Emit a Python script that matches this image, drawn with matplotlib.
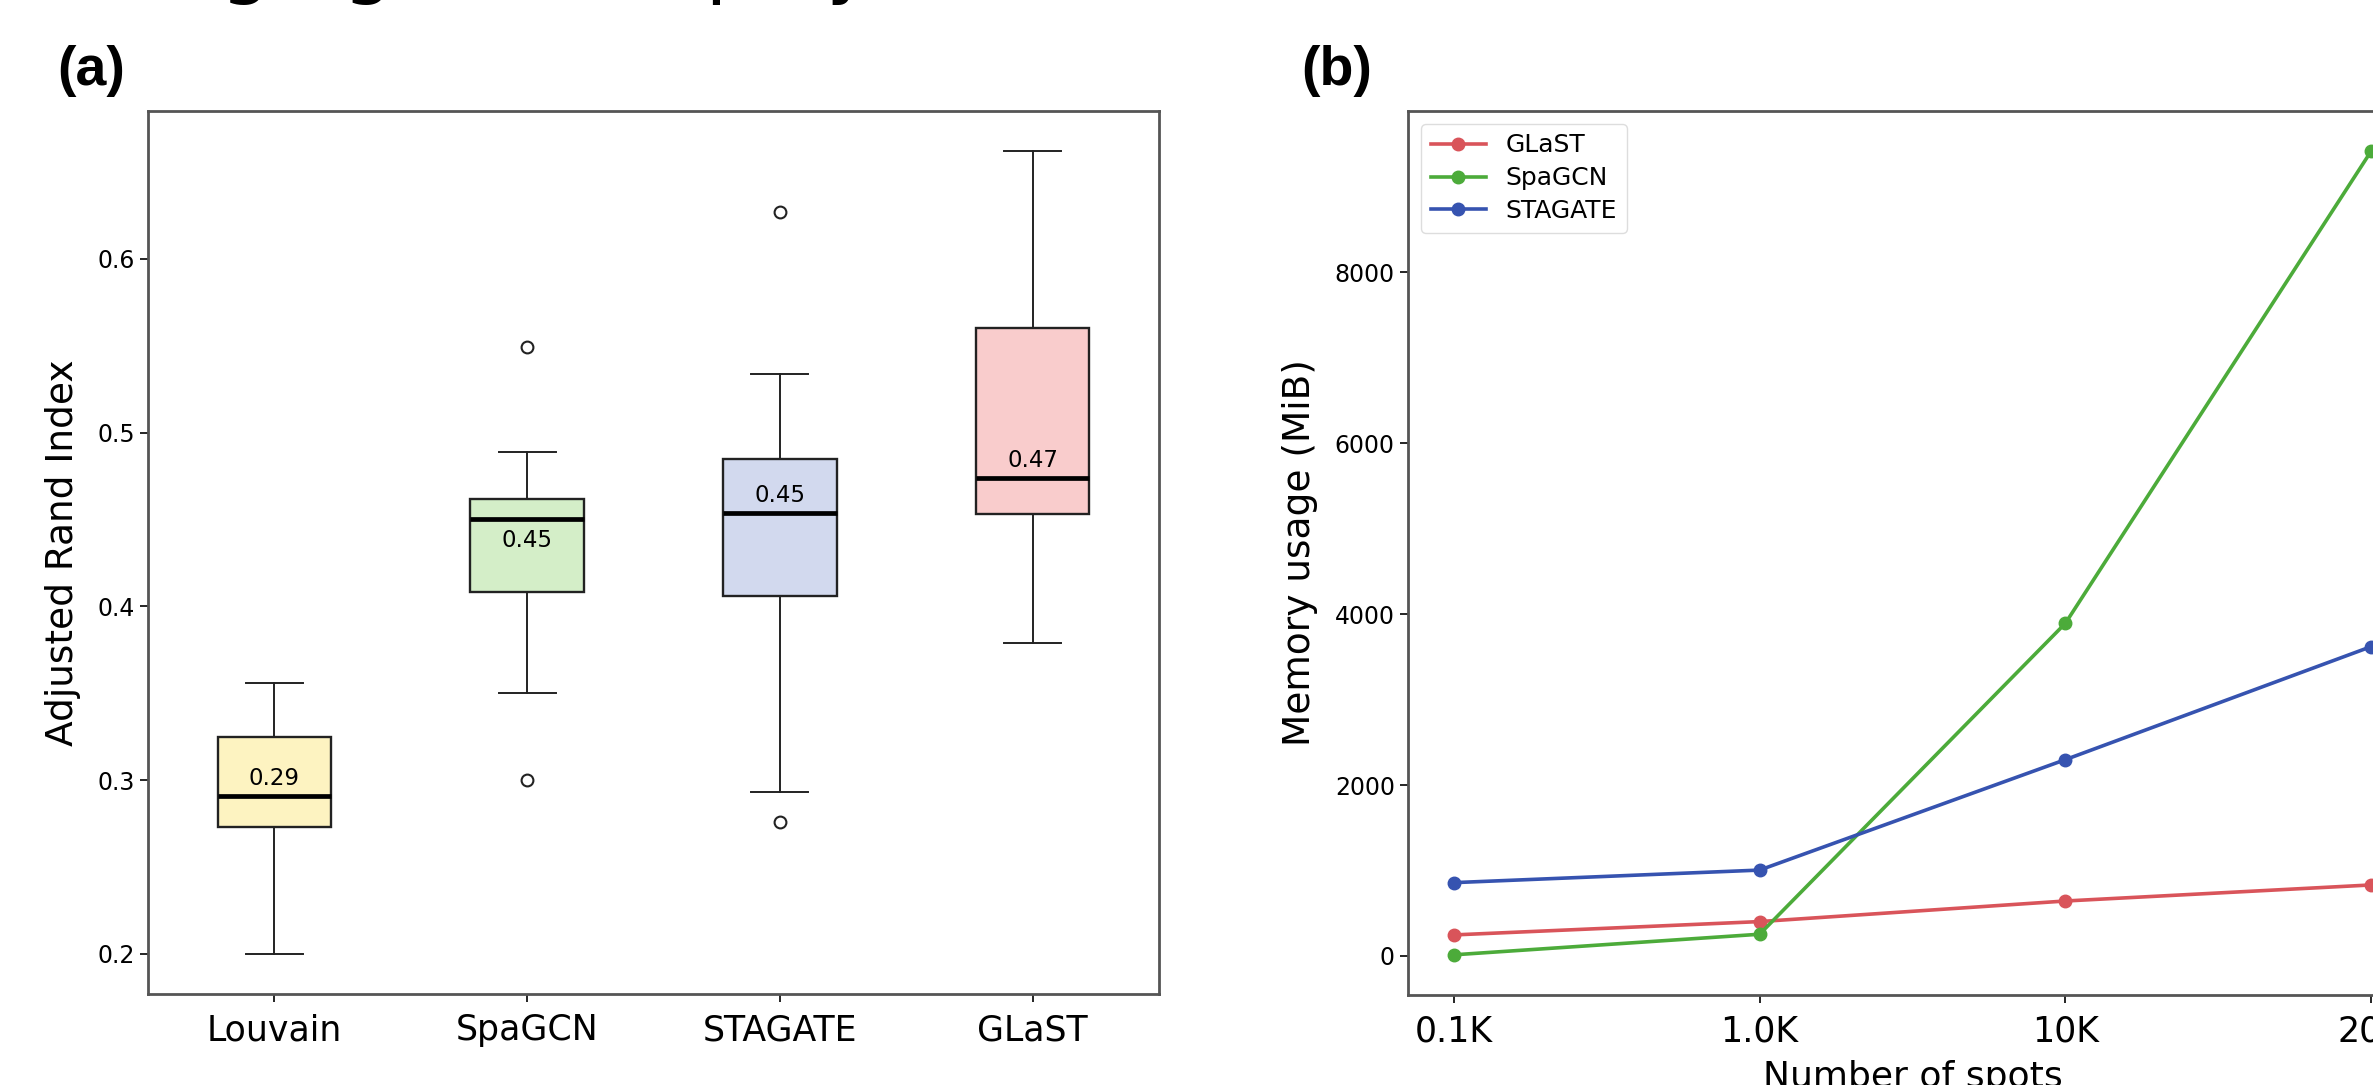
import matplotlib
matplotlib.use("Agg")
import matplotlib.pyplot as plt
from matplotlib import font_manager

# ---------------- data ----------------
methods = ["Louvain", "SpaGCN", "STAGATE", "GLaST"]
whislo = [0.200, 0.350, 0.293, 0.379]
q1 = [0.273, 0.408, 0.406, 0.453]
med = [0.291, 0.450, 0.454, 0.474]
q3 = [0.325, 0.462, 0.485, 0.560]
whishi = [0.356, 0.489, 0.534, 0.662]
fliers = [[], [0.549, 0.300], [0.627, 0.276], []]
box_colors = ["#fdf3c1", "#d4eec8", "#d2d9ee", "#f9cccc"]
label_above = [True, False, True, True]

spots = ["0.1K", "1.0K", "10K", "20K"]
glast = [245, 401, 642, 830]
spagcn = [12, 253, 3893, 9420]
stagate = [857, 1004, 2297, 3620]
line_colors = {"GLaST": "#d9545a", "SpaGCN": "#4cab3a", "STAGATE": "#3653b0"}

W, H, DPI = 2373, 1085, 100
fig = plt.figure(figsize=(W / DPI, H / DPI), dpi=DPI)

names = {f.name for f in font_manager.fontManager.ttflist}
bold_font = "Liberation Sans Narrow" if "Liberation Sans Narrow" in names else "Liberation Sans"

# top partially visible heading (cut off by the figure edge, as in the reference)
fig.text(72 / W, 1 + 11 / H, "Imaging and display", fontsize=57, va="baseline",
         ha="left", family="DejaVu Sans")

# ---------------- panel (a) ----------------
axa = fig.add_axes([148 / W, (H - 994) / H, 1011 / W, 883 / H])
stats = []
for i, m in enumerate(methods):
    stats.append(dict(label=m, med=med[i], q1=q1[i], q3=q3[i],
                      whislo=whislo[i], whishi=whishi[i], fliers=fliers[i]))
bp = axa.bxp(stats, positions=[1, 2, 3, 4], widths=0.45, patch_artist=True,
             boxprops=dict(linewidth=1.7, edgecolor="#222222"),
             whiskerprops=dict(linewidth=1.4, color="#222222"),
             capprops=dict(linewidth=1.4, color="#222222"),
             medianprops=dict(linewidth=3.4, color="black"),
             flierprops=dict(marker="o", markersize=8.5, markerfacecolor="none",
                             markeredgecolor="#222222", markeredgewidth=1.5))
for patch, c in zip(bp["boxes"], box_colors):
    patch.set_facecolor(c)
for i, m in enumerate(med):
    off = 12.5 if label_above[i] else -15
    axa.annotate(f"{m:.2f}", xy=(i + 1, m), xytext=(0, off), textcoords="offset points",
                 ha="center", va="center", fontsize=16.5)
axa.set_xlim(0.5, 4.5)
axa.set_ylabel("Adjusted Rand Index", fontsize=27, labelpad=12)
axa.tick_params(axis="y", labelsize=17, length=6, width=1.2)
axa.tick_params(axis="x", labelsize=25, length=6, width=1.2, pad=8)
axa.set_yticks([0.2, 0.3, 0.4, 0.5, 0.6])

# ---------------- panel (b) ----------------
axb = fig.add_axes([1408 / W, (H - 995) / H, 1009 / W, 884 / H])
for name, vals in [("GLaST", glast), ("SpaGCN", spagcn), ("STAGATE", stagate)]:
    axb.plot(spots, vals, "-o", color=line_colors[name], lw=2.6, markersize=9, label=name)
axb.set_ylabel("Memory usage (MiB)", fontsize=27, labelpad=12)
axb.set_xlabel("Number of spots", fontsize=26, labelpad=8)
axb.tick_params(axis="y", labelsize=17, length=6, width=1.2)
axb.tick_params(axis="x", labelsize=25, length=6, width=1.2, pad=8)
axb.legend(loc="upper left", fontsize=18, handlelength=2.2, borderpad=0.4,
           labelspacing=0.35, handletextpad=0.8, framealpha=1, edgecolor="#dddddd")

for ax in (axa, axb):
    for s in ax.spines.values():
        s.set_linewidth(2.0)
        s.set_color("#555555")

fig.text(57 / W, 1 - 71 / H, "(a)", fontsize=40, fontweight="bold", family=bold_font,
         ha="left", va="center")
fig.text(1301 / W, 1 - 71 / H, "(b)", fontsize=40, fontweight="bold", family=bold_font,
         ha="left", va="center")

fig.savefig("out.png", dpi=DPI)
